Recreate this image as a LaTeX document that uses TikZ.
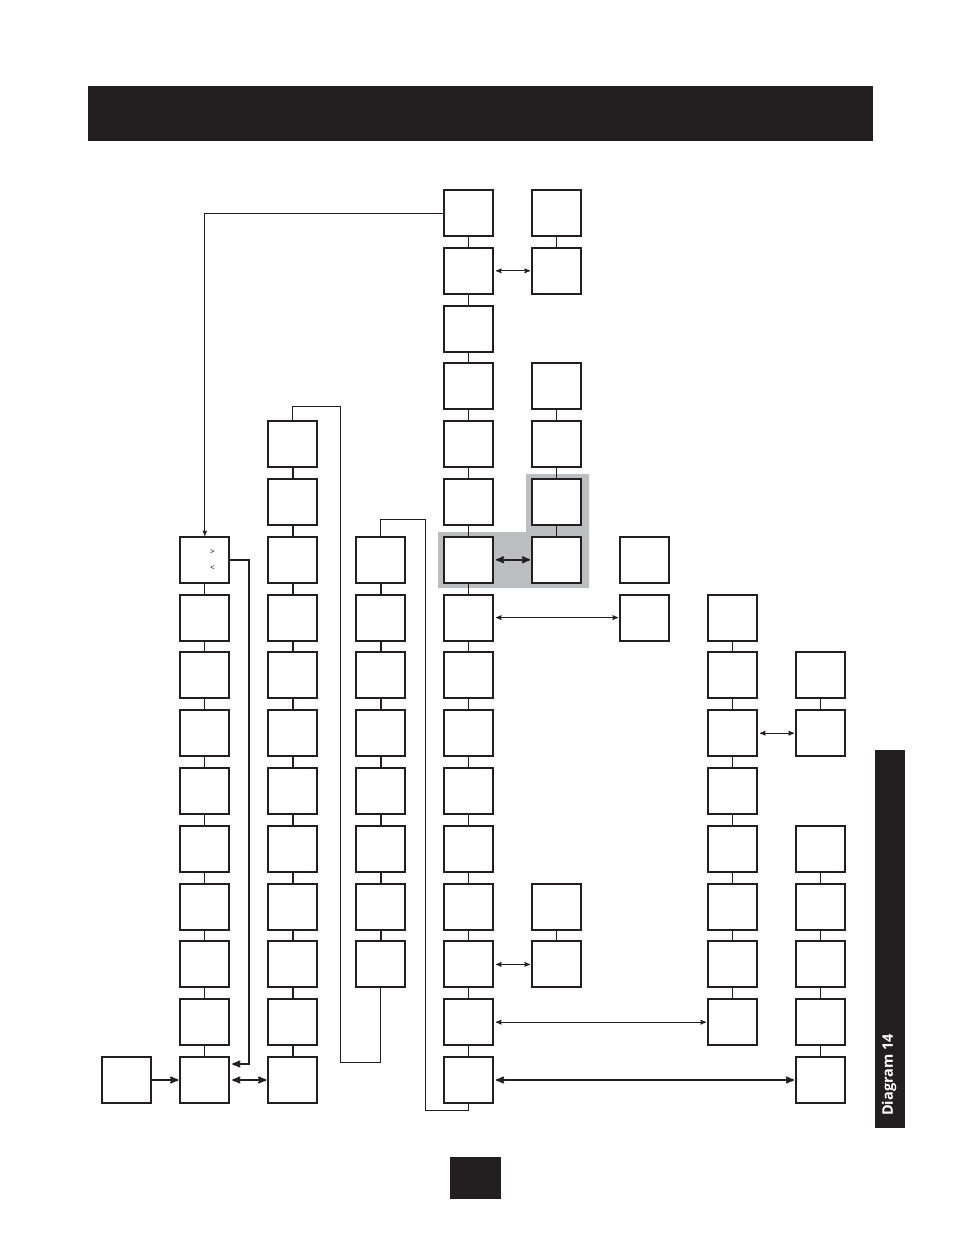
\documentclass[tikz,border=0pt]{standalone}
\usepackage{fontspec}
\usepackage{tikz}
\usetikzlibrary{arrows}
\newfontfamily\tabfont{Open Sans}
\definecolor{ink}{HTML}{231F20}
\definecolor{hilite}{HTML}{BCBEC0}

\begin{document}
\begin{tikzpicture}[x=1pt,y=-1pt,>=stealth',
    box/.style={draw=ink,line width=2pt,fill=white,minimum width=49pt,minimum height=46pt,inner sep=0pt},
    link/.style={draw=ink,line width=0.9pt},
    thick link/.style={draw=ink,line width=1.8pt},
    pair/.style={draw=ink,line width=1pt,<->,shorten <=2pt,shorten >=1pt},
    thick pair/.style={draw=ink,line width=1.8pt,<->,shorten <=2pt,shorten >=1pt}]
            \useasboundingbox (0,0) rectangle (954,1235);
            \fill[ink] (88,86) rectangle (873,141);
            \fill[ink] (450,1157) rectangle (501,1199);
            \fill[ink] (875,750) rectangle (905,1128);
            \node[rotate=90,text=white,font=\tabfont\bfseries\fontsize{14.5}{15}\selectfont] (tab) at (889,1075) {Diagram 14};
            \fill[hilite] (438,532) -- (526,532) -- (526,474) -- (589,474) -- (589,588) -- (438,588) -- cycle;
            % boxes, named b<column>-<row>
            \node[box] (b0-15) at (126.5,1080) {};
            \foreach \r in {6,...,15} {
                \node[box] (b1-\r) at (204.8,{213+57.8*\r}) {};
            }
            \foreach \r in {4,...,15} {
                \node[box] (b2-\r) at (292.8,{213+57.8*\r}) {};
            }
            \foreach \r in {6,...,13} {
                \node[box] (b3-\r) at (380.6,{213+57.8*\r}) {};
            }
            \foreach \r in {0,...,15} {
                \node[box] (b4-\r) at (468.5,{213+57.8*\r}) {};
            }
            \foreach \r in {0,1,3,4,5,6,12,13} {
                \node[box] (b5-\r) at (556.5,{213+57.8*\r}) {};
            }
            \foreach \r in {6,7} {
                \node[box] (b6-\r) at (644.5,{213+57.8*\r}) {};
            }
            \foreach \r in {7,...,14} {
                \node[box] (b7-\r) at (732.5,{213+57.8*\r}) {};
            }
            \foreach \r in {8,9,11,12,13,14,15} {
                \node[box] (b8-\r) at (820.5,{213+57.8*\r}) {};
            }
            \node[font=\tabfont\fontsize{8}{8}\selectfont] (up) at (212.5,552) {>};
            \node[font=\tabfont\fontsize{8}{8}\selectfont] (down) at (212.5,568.5) {<};
            % links down the columns
            \foreach \r [evaluate=\r as \n using int(\r+1)] in {6,...,14} {
                \draw[link] (b1-\r.south) -- (b1-\n.north);
            }
            \foreach \r [evaluate=\r as \n using int(\r+1)] in {4,...,14} {
                \draw[thick link] (b2-\r.south) -- (b2-\n.north);
            }
            \foreach \r [evaluate=\r as \n using int(\r+1)] in {6,...,12} {
                \draw[thick link] (b3-\r.south) -- (b3-\n.north);
            }
            \foreach \r [evaluate=\r as \n using int(\r+1)] in {0,...,14} {
                \draw[thick link] (b4-\r.south) -- (b4-\n.north);
            }
            \foreach \r [evaluate=\r as \n using int(\r+1)] in {0,3,4,5,12} {
                \draw[link] (b5-\r.south) -- (b5-\n.north);
            }
            \foreach \r [evaluate=\r as \n using int(\r+1)] in {7,...,13} {
                \draw[link] (b7-\r.south) -- (b7-\n.north);
            }
            \draw[link] (b8-8.south) -- (b8-9.north);
            \foreach \r [evaluate=\r as \n using int(\r+1)] in {11,...,14} {
                \draw[thick link] (b8-\r.south) -- (b8-\n.north);
            }
            % across
            \path[pair] (b4-1) edge (b5-1) (b4-7) edge (b6-7) (b7-9) edge (b8-9)
                (b4-13) edge (b5-13) (b4-14) edge (b7-14);
            \path[thick pair] (b4-6) edge (b5-6) (b4-15) edge (b8-15) (b1-15) edge (b2-15);
            \draw[thick link,->,shorten >=1pt] (b0-15) -- (b1-15);
            % loops
            \draw[link,->] (b4-0.west) -| (b1-6.north);
            \draw[thick link,->,shorten >=2pt] (b1-6.east) -| ([xshift=19pt,yshift=16pt]b1-15.east) -- ([yshift=16pt]b1-15.east);
            \draw[link] (b3-13.south) |- (340.5,1062) |- (292.8,406) -- (b2-4.north);
            \draw[link] (b3-6.north) |- (425,519) |- (468.5,1110) -- (b4-15.south);
        \end{tikzpicture}
\end{document}
